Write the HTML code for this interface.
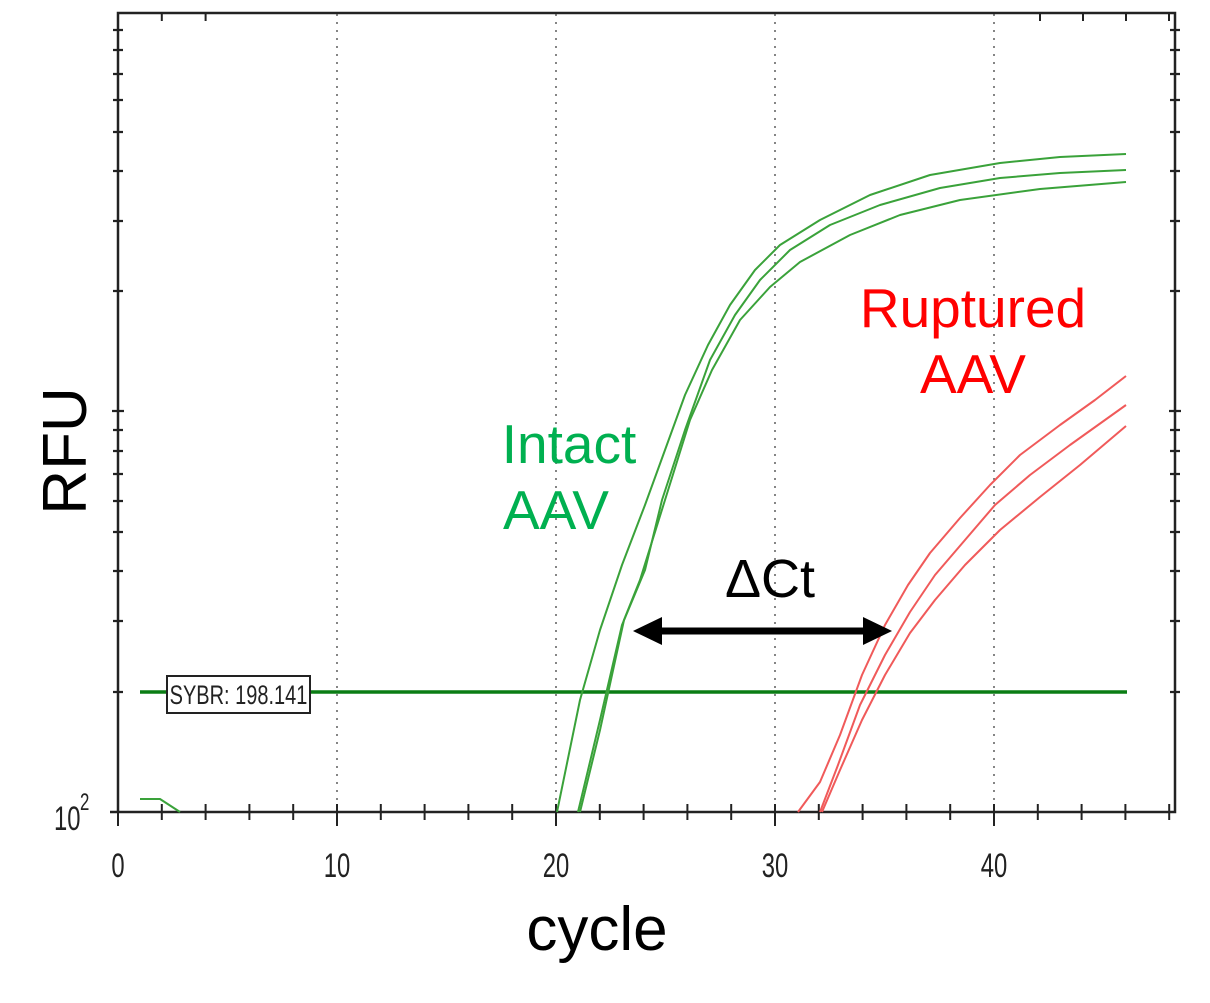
<!DOCTYPE html>
<html><head><meta charset="utf-8"><style>
html,body{margin:0;padding:0;background:#fff;}
svg{display:block;}
</style></head><body>
<svg width="1210" height="1003" viewBox="0 0 1210 1003" xmlns="http://www.w3.org/2000/svg" font-family="Liberation Sans, Arial, sans-serif">
<rect width="1210" height="1003" fill="#fff"/>
<g stroke="#444" stroke-width="1.3" stroke-dasharray="2,6">
<line x1="337" y1="14" x2="337" y2="812"/>
<line x1="556" y1="14" x2="556" y2="812"/>
<line x1="775" y1="14" x2="775" y2="812"/>
<line x1="994" y1="14" x2="994" y2="812"/>
</g>
<g stroke="#222" stroke-width="2.5" fill="none">
<polyline points="110,812 1175,812 1175,13 118,13 118,812"/>
</g>
<g stroke="#222" stroke-width="2">
<line x1="118" y1="812" x2="118" y2="826"/>
<line x1="161.8" y1="804" x2="161.8" y2="820"/><line x1="205.6" y1="804" x2="205.6" y2="820"/><line x1="249.4" y1="804" x2="249.4" y2="820"/><line x1="293.2" y1="804" x2="293.2" y2="820"/>
<line x1="337" y1="804" x2="337" y2="826"/>
<line x1="380.8" y1="804" x2="380.8" y2="820"/><line x1="424.6" y1="804" x2="424.6" y2="820"/><line x1="468.4" y1="804" x2="468.4" y2="820"/><line x1="512.2" y1="804" x2="512.2" y2="820"/>
<line x1="556" y1="804" x2="556" y2="826"/>
<line x1="599.8" y1="804" x2="599.8" y2="820"/><line x1="643.6" y1="804" x2="643.6" y2="820"/><line x1="687.4" y1="804" x2="687.4" y2="820"/><line x1="731.2" y1="804" x2="731.2" y2="820"/>
<line x1="775" y1="804" x2="775" y2="826"/>
<line x1="818.8" y1="804" x2="818.8" y2="820"/><line x1="862.6" y1="804" x2="862.6" y2="820"/><line x1="906.4" y1="804" x2="906.4" y2="820"/><line x1="950.2" y1="804" x2="950.2" y2="820"/>
<line x1="994" y1="804" x2="994" y2="826"/>
<line x1="1037.8" y1="804" x2="1037.8" y2="820"/><line x1="1081.6" y1="804" x2="1081.6" y2="820"/><line x1="1125.4" y1="804" x2="1125.4" y2="820"/><line x1="1169.2" y1="804" x2="1169.2" y2="820"/>
<line x1="161.8" y1="13" x2="161.8" y2="21"/><line x1="205.6" y1="13" x2="205.6" y2="21"/>
<line x1="1040" y1="13" x2="1040" y2="21"/><line x1="1083" y1="13" x2="1083" y2="21"/><line x1="1126" y1="13" x2="1126" y2="21"/><line x1="1169" y1="13" x2="1169" y2="21"/>
</g>
<g stroke="#222" stroke-width="2.2">
<path d="M113 692h10M113 621h10M113 571h10M113 532h10M113 501h10M113 474h10M113 451h10M113 430h10M112 411h12M113 291h10M113 221h10M113 171h10M113 132h10M113 100h10M113 74h10M113 50h10M113 30h10
M1170 692h10M1170 621h10M1170 571h10M1170 532h10M1170 501h10M1170 474h10M1170 451h10M1170 430h10M1169 411h12M1170 291h10M1170 221h10M1170 171h10M1170 132h10M1170 100h10M1170 74h10M1170 50h10M1170 30h10"/>
</g>
<g font-size="34" fill="#222" text-anchor="middle">
<text x="118" y="877" transform="translate(118 0) scale(0.7 1) translate(-118 0)">0</text>
<text x="337" y="877" transform="translate(337 0) scale(0.7 1) translate(-337 0)">10</text>
<text x="556" y="877" transform="translate(556 0) scale(0.7 1) translate(-556 0)">20</text>
<text x="775" y="877" transform="translate(775 0) scale(0.7 1) translate(-775 0)">30</text>
<text x="994" y="877" transform="translate(994 0) scale(0.7 1) translate(-994 0)">40</text>
</g>
<text x="54" y="830" font-size="34" fill="#222" transform="translate(54 0) scale(0.7 1) translate(-54 0)">10</text>
<text x="80" y="810" font-size="24" fill="#222" transform="translate(80 0) scale(0.7 1) translate(-80 0)">2</text>
<line x1="140" y1="692" x2="1127" y2="692" stroke="#0a7d14" stroke-width="3.5"/>
<rect x="167" y="676" width="143" height="37" fill="#fff" stroke="#222" stroke-width="2"/>
<text x="238.5" y="704" font-size="27" fill="#222" text-anchor="middle" transform="translate(238.5 0) scale(0.74 1) translate(-238.5 0)">SYBR: 198.141</text>
<g fill="none" stroke="#3aa23a" stroke-width="2" stroke-linejoin="round">
<polyline points="140,799 160,799 180,812"/>
<polyline points="557,812 580,700 600,630 622,565 645,505 665,450 685,395 708,345 730,305 755,270 780,245 820,220 870,195 930,175 1000,163 1060,157 1126,154"/>
<polyline points="578,812 600,720 622,625 645,570 662,500 685,430 710,360 735,315 760,280 790,250 830,225 880,205 940,188 1000,178 1060,173 1126,170"/>
<polyline points="580,812 600,730 624,620 640,580 665,500 690,420 712,370 740,320 770,287 800,262 850,235 900,215 960,200 1040,189 1126,182"/>
</g>
<g fill="none" stroke="#f05a5a" stroke-width="2" stroke-linejoin="round">
<polyline points="798,812 820,782 840,735 862,675 885,625 908,585 930,553 960,518 990,485 1020,455 1060,425 1095,400 1126,376"/>
<polyline points="820,812 838,765 860,705 885,655 910,612 935,575 965,540 995,505 1030,475 1070,445 1126,405"/>
<polyline points="822,812 840,770 862,720 885,675 910,633 935,600 965,565 1000,530 1040,497 1080,465 1126,426"/>
</g>
<line x1="655" y1="631" x2="870" y2="631" stroke="#000" stroke-width="7"/>
<polygon points="633,631 662,617 662,645" fill="#000"/>
<polygon points="892,631 863,617 863,645" fill="#000"/>
<text x="770" y="597" font-size="54" fill="#000" text-anchor="middle">ΔCt</text>
<text x="569" y="463" font-size="55" fill="#00b050" text-anchor="middle">Intact</text>
<text x="556" y="529" font-size="55" fill="#00b050" text-anchor="middle">AAV</text>
<text x="973" y="327" font-size="55" fill="#ff0000" text-anchor="middle">Ruptured</text>
<text x="973" y="393" font-size="55" fill="#ff0000" text-anchor="middle">AAV</text>
<text x="597" y="950" font-size="62" fill="#000" text-anchor="middle">cycle</text>
<text x="0" y="0" font-size="62" fill="#000" text-anchor="middle" transform="translate(86 451) rotate(-90)">RFU</text>
</svg>
</body></html>
